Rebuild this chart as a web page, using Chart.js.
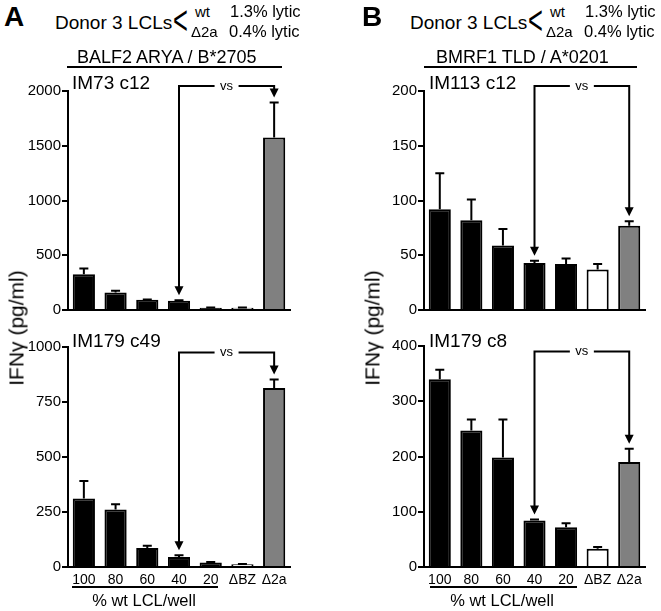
<!DOCTYPE html>
<html><head><meta charset="utf-8">
<script src="https://cdn.jsdelivr.net/npm/chart.js@4/dist/chart.umd.min.js"></script>
<style>
html,body{margin:0;padding:0;background:#fff;}
body{width:661px;height:611px;position:relative;overflow:hidden;font-family:"Liberation Sans",Arial,Helvetica,sans-serif;color:#000;}
.t{position:absolute;white-space:nowrap;line-height:1;z-index:2;}
.ln{position:absolute;background:#000;height:2px;z-index:2;}
canvas{position:absolute;z-index:1;}
</style></head>
<body>
<!-- Panel A header -->
<div class="t" style="left:4px;top:3px;font-size:28px;font-weight:bold;">A</div>
<div class="t" style="left:55px;top:13px;font-size:19px;">Donor 3 LCLs</div>
<div class="t" style="left:173px;top:5px;font-size:30px;transform:scale(0.85,1.35);transform-origin:0 50%;">&lt;</div>
<div class="t" style="left:195px;top:4px;font-size:15px;">wt</div>
<div class="t" style="left:191px;top:24px;font-size:15px;">Δ2a</div>
<div class="t" style="left:230px;top:3px;font-size:16.5px;">1.3% lytic</div>
<div class="t" style="left:229px;top:23px;font-size:16.5px;">0.4% lytic</div>
<div class="t" style="left:77px;top:48px;font-size:18px;">BALF2 ARYA / B*2705</div>
<div class="ln" style="left:67px;top:66px;width:215px;"></div>
<div class="t" style="left:72px;top:73px;font-size:19px;">IM73 c12</div>
<div class="t" style="left:72px;top:331px;font-size:19px;">IM179 c49</div>
<div class="t" style="left:16px;top:328px;font-size:21px;transform:translate(-50%,-50%) rotate(-90deg);">IFNγ (pg/ml)</div>
<div class="ln" style="left:72px;top:586px;width:146px;"></div>
<div class="t" style="left:144px;top:592px;font-size:16.5px;transform:translateX(-50%);">% wt LCL/well</div>

<!-- Panel B header -->
<div class="t" style="left:362px;top:3px;font-size:28px;font-weight:bold;">B</div>
<div class="t" style="left:410px;top:13px;font-size:19px;">Donor 3 LCLs</div>
<div class="t" style="left:528px;top:5px;font-size:30px;transform:scale(0.85,1.35);transform-origin:0 50%;">&lt;</div>
<div class="t" style="left:550px;top:4px;font-size:15px;">wt</div>
<div class="t" style="left:546px;top:24px;font-size:15px;">Δ2a</div>
<div class="t" style="left:585px;top:3px;font-size:16.5px;">1.3% lytic</div>
<div class="t" style="left:584px;top:23px;font-size:16.5px;">0.4% lytic</div>
<div class="t" style="left:436px;top:48px;font-size:18px;">BMRF1 TLD / A*0201</div>
<div class="ln" style="left:424px;top:66px;width:213px;"></div>
<div class="t" style="left:429px;top:73px;font-size:19px;">IM113 c12</div>
<div class="t" style="left:429px;top:331px;font-size:19px;">IM179 c8</div>
<div class="t" style="left:372px;top:328px;font-size:21px;transform:translate(-50%,-50%) rotate(-90deg);">IFNγ (pg/ml)</div>
<div class="ln" style="left:430px;top:586px;width:147px;"></div>
<div class="t" style="left:502px;top:592px;font-size:16.5px;transform:translateX(-50%);">% wt LCL/well</div>

<canvas id="cA1"></canvas>
<canvas id="cA2"></canvas>
<canvas id="cB1"></canvas>
<canvas id="cB2"></canvas>

<script>
// ---- data ----
const categories = ['100', '80', '60', '40', '20', 'ΔBZ', 'Δ2a'];

const balf2Im73Means  = [327, 160, 94, 85, 21, 20, 1576];
const balf2Im73Errors = [51, 15, 3, 3, 2, 2, 318];

const balf2Im179Means  = [311, 261, 86, 45, 21, 12, 814];
const balf2Im179Errors = [80, 24, 11, 8, 2, 2, 38];

const bmrf1Im113Means  = [92, 82, 59, 43, 42, 37, 77];
const bmrf1Im113Errors = [33, 19, 15, 2, 5, 5, 4];

const bmrf1Im179Means  = [340, 247, 198, 84, 72, 33, 190];
const bmrf1Im179Errors = [17, 20, 69, 2, 7, 3, 24];

const comparison = {from: 3, to: 6};   // 40% wt vs Δ2a

// ---- styles ----
const barColors = ['#000', '#000', '#000', '#000', '#000', '#fff', '#808080'];
Chart.defaults.font.family = '"Liberation Sans", Arial, Helvetica, sans-serif';
Chart.defaults.color = '#000';

const errArrows = {
  id: 'errArrows',
  afterDatasetsDraw(chart, args, opts) {
    const ctx = chart.ctx;
    const meta = chart.getDatasetMeta(0);
    const ys = chart.scales.y;
    const means = chart.data.datasets[0].data;
    const errs = opts.errs;
    ctx.save();
    ctx.strokeStyle = '#000';
    ctx.fillStyle = '#000';
    ctx.lineWidth = 2;
    // error bars
    meta.data.forEach((bar, i) => {
      const yTop = ys.getPixelForValue(means[i] + errs[i]);
      ctx.beginPath();
      ctx.moveTo(bar.x, bar.y);
      ctx.lineTo(bar.x, yTop);
      ctx.moveTo(bar.x - 4.5, yTop);
      ctx.lineTo(bar.x + 4.5, yTop);
      ctx.stroke();
    });
    // comparison arrow
    const a = meta.data[opts.from], b = meta.data[opts.to];
    const lineY = chart.chartArea.top + opts.lineOffset;
    const tipA = ys.getPixelForValue(means[opts.from] + errs[opts.from]) - 5;
    const tipB = ys.getPixelForValue(means[opts.to] + errs[opts.to]) - 5;
    const mid = (a.x + b.x) / 2, gap = 12, head = 9, hw = 4.5;
    ctx.beginPath();
    ctx.moveTo(a.x, tipA - head + 1);
    ctx.lineTo(a.x, lineY);
    ctx.lineTo(mid - gap, lineY);
    ctx.moveTo(mid + gap, lineY);
    ctx.lineTo(b.x, lineY);
    ctx.lineTo(b.x, tipB - head + 1);
    ctx.stroke();
    [[a.x, tipA], [b.x, tipB]].forEach(([x, y]) => {
      ctx.beginPath();
      ctx.moveTo(x, y);
      ctx.lineTo(x - hw, y - head);
      ctx.lineTo(x + hw, y - head);
      ctx.closePath();
      ctx.fill();
    });
    ctx.font = '13px "Liberation Sans", Arial, sans-serif';
    ctx.textAlign = 'center';
    ctx.textBaseline = 'middle';
    ctx.fillText('vs', mid, lineY);
    ctx.restore();
  }
};

function makeChart(id, box, area, means, errs, yMax, yStep, showX, lineOffset) {
  const cv = document.getElementById(id);
  cv.width = box.w; cv.height = box.h;
  cv.style.left = box.x + 'px'; cv.style.top = box.y + 'px';
  cv.style.width = box.w + 'px'; cv.style.height = box.h + 'px';
  const yW = area.l - box.x;
  const xH = box.y + box.h - area.b;
  return new Chart(cv, {
    type: 'bar',
    data: {
      labels: categories,
      datasets: [{
        data: means,
        backgroundColor: barColors,
        borderColor: '#000',
        borderWidth: 2,
        barPercentage: 0.7,
        categoryPercentage: 1.0
      }]
    },
    options: {
      responsive: false,
      animation: false,
      devicePixelRatio: 1,
      layout: {padding: {left: 0, top: area.t - box.y, right: box.x + box.w - area.r, bottom: 0}},
      plugins: {
        legend: {display: false},
        tooltip: {enabled: false},
        errArrows: {errs: errs, from: comparison.from, to: comparison.to, lineOffset: lineOffset}
      },
      scales: {
        x: {
          grid: {drawOnChartArea: false, drawTicks: false},
          border: {display: true, color: '#000', width: 2},
          ticks: {display: showX, font: {size: 14}, color: '#000', padding: 5, maxRotation: 0, autoSkip: false},
          afterFit(s) { s.height = xH; }
        },
        y: {
          min: 0, max: yMax,
          grid: {drawOnChartArea: false, drawTicks: true, tickLength: 6, color: '#000', lineWidth: 2},
          border: {display: true, color: '#000', width: 2},
          ticks: {stepSize: yStep, font: {size: 15}, color: '#000', padding: 1, callback: v => String(v)},
          afterFit(s) { s.width = yW; }
        }
      }
    },
    plugins: [errArrows]
  });
}

makeChart('cA1', {x: 0, y: 70, w: 300, h: 250}, {l: 68, t: 91, r: 290, b: 311},
  balf2Im73Means, balf2Im73Errors, 2000, 500, false, -5);
makeChart('cA2', {x: 0, y: 330, w: 300, h: 270}, {l: 68, t: 347, r: 290, b: 567},
  balf2Im179Means, balf2Im179Errors, 1000, 250, true, 5.5);
makeChart('cB1', {x: 356, y: 70, w: 300, h: 250}, {l: 424, t: 91, r: 645, b: 310},
  bmrf1Im113Means, bmrf1Im113Errors, 200, 50, false, -5);
makeChart('cB2', {x: 356, y: 330, w: 300, h: 270}, {l: 424, t: 346, r: 645, b: 567},
  bmrf1Im179Means, bmrf1Im179Errors, 400, 100, true, 5.5);
</script>
</body></html>
